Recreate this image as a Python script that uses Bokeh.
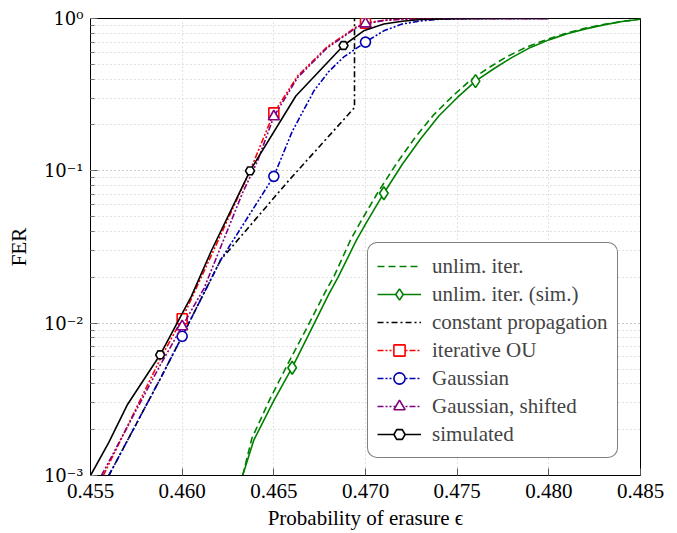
from bokeh.plotting import figure
from bokeh.models import (Range1d, FixedTicker, LogTicker, CustomJSTickFormatter,
                          Legend, LegendItem)
from bokeh.embed import file_html
from bokeh.resources import INLINE

# ---------------- data ----------------
x_ticks = [0.455, 0.460, 0.465, 0.470, 0.475, 0.480, 0.485]
x_tick_labels = ["0.455", "0.460", "0.465", "0.470", "0.475", "0.480", "0.485"]
y_ticks = [1e-3, 1e-2, 1e-1, 1e0]
y_tick_labels = ["10\u207b\u00b3", "10\u207b\u00b2", "10\u207b\u00b9", "10\u2070"]

unlim_x = [0.4633, 0.4638, 0.4648, 0.4658, 0.4668, 0.4678, 0.4683, 0.4692, 0.4697, 0.4707,
           0.4717, 0.4727, 0.4737, 0.4747, 0.4757, 0.4767, 0.4777, 0.4788, 0.4799, 0.4809,
           0.4819, 0.4829, 0.4840, 0.4850]
unlim_y = [1e-3, 1.75e-3, 3.2e-3, 5.5e-3, 0.0093, 0.0160, 0.0205, 0.0355, 0.0455, 0.073,
           0.112, 0.165, 0.232, 0.305, 0.392, 0.473, 0.561, 0.651, 0.729, 0.798,
           0.858, 0.910, 0.956, 0.992]

unlim_sim_x = [0.4633, 0.4639, 0.4650, 0.4660, 0.4670, 0.4680, 0.4685, 0.4695, 0.4700, 0.4710,
               0.4720, 0.4730, 0.4740, 0.4750, 0.4760, 0.4770, 0.4780, 0.4790, 0.4800, 0.4810,
               0.4820, 0.4830, 0.4840, 0.4850]
unlim_sim_y = [1e-3, 1.7e-3, 3.1e-3, 5.1e-3, 0.0089, 0.0155, 0.020, 0.0349, 0.0447, 0.0713,
               0.110, 0.162, 0.229, 0.302, 0.388, 0.468, 0.556, 0.646, 0.724, 0.794,
               0.855, 0.908, 0.955, 0.989]
unlim_sim_mark_x = [0.466, 0.471, 0.476]
unlim_sim_mark_y = [5.1e-3, 0.0713, 0.388]

const_x = [0.4560, 0.4588, 0.4600, 0.4621, 0.4658, 0.4694, 0.4694]
const_y = [1e-3, 0.0043, 0.0082, 0.026, 0.086, 0.26, 1.0]

ou_x = [0.4557, 0.4588, 0.4600, 0.4612, 0.4637, 0.4650, 0.4663, 0.4679, 0.4695, 0.4700, 0.4710, 0.4720, 0.4740, 0.4800]
ou_y = [1e-3, 0.0058, 0.0107, 0.022, 0.1, 0.24, 0.42, 0.65, 0.88, 0.93, 0.975, 0.99, 1.0, 1.0]
ou_mark_x = [0.460, 0.465, 0.470]
ou_mark_y = [0.0107, 0.24, 0.93]

gauss_x = [0.4560, 0.4588, 0.4600, 0.4621, 0.4650, 0.4660, 0.4672, 0.4680, 0.4688, 0.4700, 0.4710, 0.4720, 0.4730, 0.4740, 0.4760, 0.4800]
gauss_y = [1e-3, 0.0043, 0.0082, 0.026, 0.092, 0.181, 0.337, 0.449, 0.557, 0.70, 0.83, 0.92, 0.965, 0.988, 1.0, 1.0]
gauss_mark_x = [0.460, 0.465, 0.470]
gauss_mark_y = [0.0082, 0.092, 0.70]

shift_x = [0.4556, 0.4588, 0.4600, 0.4612, 0.4633, 0.4641, 0.4650, 0.4663, 0.4679, 0.4695, 0.4700, 0.4710, 0.4720, 0.4740, 0.4800]
shift_y = [1e-3, 0.0053, 0.0095, 0.017, 0.072, 0.115, 0.227, 0.41, 0.64, 0.87, 0.925, 0.97, 0.99, 1.0, 1.0]
shift_mark_x = [0.460, 0.465, 0.470]
shift_mark_y = [0.0095, 0.227, 0.925]

sim_x = [0.4550, 0.4560, 0.4570, 0.4588, 0.4605, 0.4616, 0.4637, 0.4662, 0.4688, 0.4699, 0.4710, 0.4720, 0.4730, 0.4750, 0.4800]
sim_y = [1e-3, 1.65e-3, 2.9e-3, 6.2e-3, 0.015, 0.030, 0.1, 0.31, 0.665, 0.83, 0.92, 0.96, 0.985, 0.998, 1.0]
sim_mark_x = [0.4588, 0.4637, 0.4688]
sim_mark_y = [6.2e-3, 0.1, 0.665]

# ---------------- styles ----------------
FONT = "Liberation Serif"
GREEN = "#008000"
RED = "#ff0000"
BLUE = "#0000b3"
PURPLE = "#800080"
BLACK = "#000000"

p = figure(width=672, height=533, output_backend="svg", toolbar_location=None,
           y_axis_type="log", x_range=Range1d(0.455, 0.485), y_range=Range1d(1e-3, 1.0),
           min_border_left=90, min_border_right=32, min_border_top=18, min_border_bottom=58)

p.background_fill_color = "white"
p.outline_line_color = "black"
p.outline_line_width = 1
p.outline_line_alpha = 1

# axes
p.xaxis.ticker = FixedTicker(ticks=x_ticks, minor_ticks=[])
p.xaxis.formatter = CustomJSTickFormatter(args=dict(tvals=x_ticks, tlabs=x_tick_labels), code="""
let best = 0, bd = Infinity;
for (let i = 0; i < tvals.length; i++) { const d = Math.abs(tvals[i] - tick); if (d < bd) { bd = d; best = i; } }
return tlabs[best];
""")
p.yaxis.ticker = LogTicker(num_minor_ticks=10)
p.yaxis.formatter = CustomJSTickFormatter(args=dict(tvals=y_ticks, tlabs=y_tick_labels), code="""
let best = 0, bd = Infinity;
for (let i = 0; i < tvals.length; i++) { const d = Math.abs(Math.log10(tvals[i]) - Math.log10(tick)); if (d < bd) { bd = d; best = i; } }
return tlabs[best];
""")

for ax in (p.xaxis[0], p.yaxis[0]):
    ax.axis_line_color = "black"
    ax.major_tick_out = 0
    ax.major_tick_in = 7
    ax.minor_tick_out = 0
    ax.minor_tick_in = 4
    ax.major_tick_line_color = "#555555"
    ax.minor_tick_line_color = "#777777"
    ax.major_label_text_font = FONT
    ax.major_label_text_font_size = "21px"
    ax.major_label_text_color = "black"
    ax.axis_label_text_font = FONT
    ax.axis_label_text_font_size = "21px"
    ax.axis_label_text_font_style = "normal"
    ax.axis_label_text_color = "black"

p.yaxis.major_label_text_font = "DejaVu Serif"
p.yaxis.major_label_text_font_size = "18px"

p.xaxis.axis_label = "Probability of erasure \u03f5"
p.xaxis.major_label_standoff = 8
p.xaxis.axis_label_standoff = 5
p.yaxis.axis_label = "FER"
p.yaxis.major_label_standoff = 7
p.yaxis.axis_label_standoff = 10

# grid
p.xgrid.grid_line_color = "#c4c4c4"
p.xgrid.grid_line_dash = "1 3"
p.xgrid.grid_line_width = 1
p.ygrid.grid_line_color = "#c4c4c4"
p.ygrid.grid_line_dash = "1 3"
p.ygrid.minor_grid_line_color = "#c4c4c4"
p.ygrid.minor_grid_line_dash = "1 3"

LW = 1.6
DASHDOTDOT = "6 2 2 2 2 2"
r_unlim = p.line(unlim_x, unlim_y, line_color=GREEN, line_width=LW, line_dash="7 4")
r_usim = p.line(unlim_sim_x, unlim_sim_y, line_color=GREEN, line_width=LW)
m_usim = p.scatter(unlim_sim_mark_x, unlim_sim_mark_y, marker="diamond", size=13,
                   line_color=GREEN, fill_color="white", line_width=1.6)
r_const = p.line(const_x, const_y, line_color=BLACK, line_width=LW, line_dash="6 3 2 3")
r_ou = p.line(ou_x, ou_y, line_color=RED, line_width=LW, line_dash=DASHDOTDOT)
m_ou = p.scatter(ou_mark_x, ou_mark_y, marker="square", size=10,
                 line_color=RED, fill_color="white", line_width=1.6)
r_gauss = p.line(gauss_x, gauss_y, line_color=BLUE, line_width=LW, line_dash=DASHDOTDOT)
m_gauss = p.scatter(gauss_mark_x, gauss_mark_y, marker="circle", size=10,
                    line_color=BLUE, fill_color="white", line_width=1.6)
r_shift = p.line(shift_x, shift_y, line_color=PURPLE, line_width=LW, line_dash=DASHDOTDOT)
m_shift = p.scatter(shift_mark_x, shift_mark_y, marker="triangle", size=11,
                    line_color=PURPLE, fill_color="white", line_width=1.6)
r_sim = p.line(sim_x, sim_y, line_color=BLACK, line_width=LW)
m_sim = p.scatter(sim_mark_x, sim_mark_y, marker="hex", size=9,
                  line_color=BLACK, fill_color="white", line_width=1.6)

legend = Legend(items=[
    LegendItem(label="unlim. iter.", renderers=[r_unlim]),
    LegendItem(label="unlim. iter. (sim.)", renderers=[r_usim, m_usim]),
    LegendItem(label="constant propagation", renderers=[r_const]),
    LegendItem(label="iterative OU", renderers=[r_ou, m_ou]),
    LegendItem(label="Gaussian", renderers=[r_gauss, m_gauss]),
    LegendItem(label="Gaussian, shifted", renderers=[r_shift, m_shift]),
    LegendItem(label="simulated", renderers=[r_sim, m_sim]),
], location=(277, 17))
legend.label_text_font = FONT
legend.label_text_font_size = "21px"
legend.label_height = 28
legend.glyph_height = 28
legend.glyph_width = 44
legend.label_standoff = 11
legend.spacing = 0
legend.padding = 9
legend.margin = 0
legend.border_line_color = "black"
legend.border_line_width = 1
legend.background_fill_alpha = 1
legend.background_fill_color = "white"
try:
    legend.border_radius = 10
except Exception:
    pass
p.add_layout(legend)

open("out.html", "w").write(file_html(p, INLINE))
